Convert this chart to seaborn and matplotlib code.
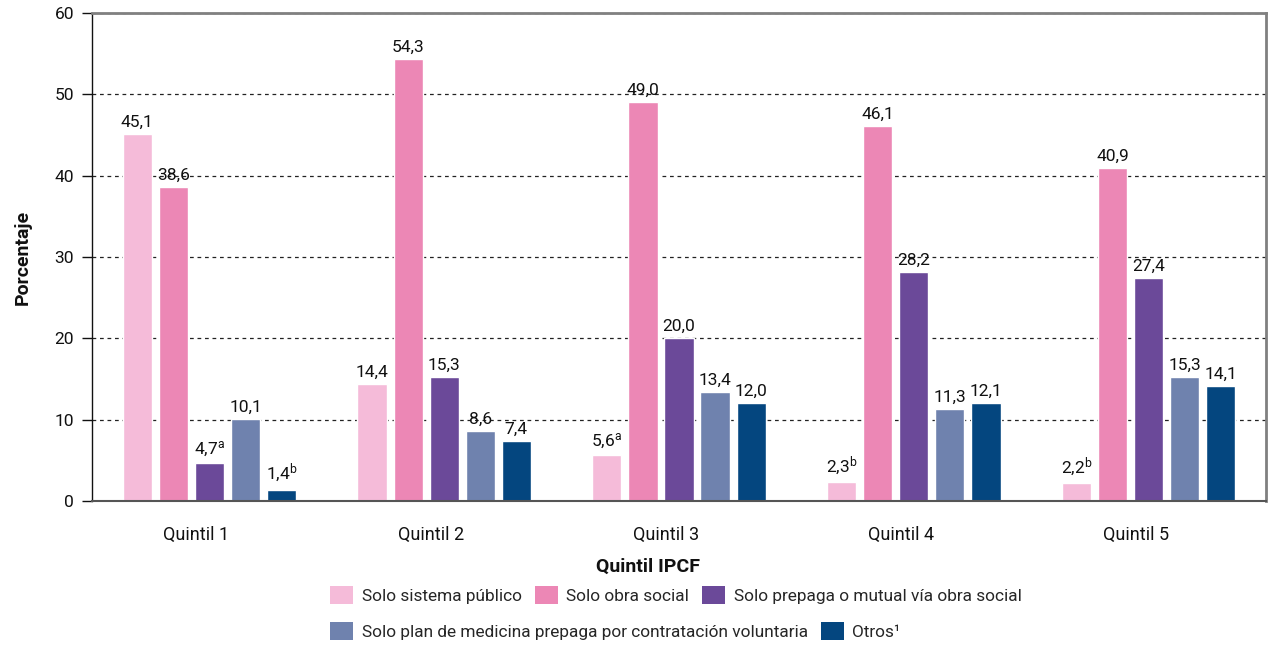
import matplotlib
matplotlib.use("Agg")
import matplotlib.pyplot as plt
import matplotlib.transforms as mtransforms
from matplotlib.patches import Patch
import seaborn as sns
import pandas as pd

# Data
quintiles = ["Quintil 1", "Quintil 2", "Quintil 3", "Quintil 4", "Quintil 5"]
categories = [
    "Solo sistema público",
    "Solo obra social",
    "Solo prepaga o mutual vía obra social",
    "Solo plan de medicina prepaga por contratación voluntaria",
    "Otros¹",
]
publico = [45.1, 14.4, 5.6, 2.3, 2.2]
obra_social = [38.6, 54.3, 49.0, 46.1, 40.9]
prepaga_mutual = [4.7, 15.3, 20.0, 28.2, 27.4]
prepaga_voluntaria = [10.1, 8.6, 13.4, 11.3, 15.3]
otros = [1.4, 7.4, 12.0, 12.1, 14.1]

# Footnote marks attached to some values
notas_publico = ["", "", "a", "b", "b"]
notas_obra_social = ["", "", "", "", ""]
notas_prepaga_mutual = ["a", "", "", "", ""]
notas_prepaga_voluntaria = ["", "", "", "", ""]
notas_otros = ["b", "", "", "", ""]

colors = ["#F5BBD9", "#EC87B5", "#6B4999", "#6F82AE", "#04467F"]

series = [publico, obra_social, prepaga_mutual, prepaga_voluntaria, otros]
notes = [notas_publico, notas_obra_social, notas_prepaga_mutual,
         notas_prepaga_voluntaria, notas_otros]

rows = []
for cat, vals in zip(categories, series):
    for q, v in zip(quintiles, vals):
        rows.append({"quintil": q, "categoria": cat, "valor": v})
df = pd.DataFrame(rows)

sns.set_theme(style="white")
plt.rcParams["font.family"] = ["Roboto", "DejaVu Sans"]
plt.rcParams["mathtext.fontset"] = "custom"
plt.rcParams["mathtext.rm"] = "Roboto"
plt.rcParams["mathtext.it"] = "Roboto:italic"
plt.rcParams["mathtext.bf"] = "Roboto:bold"

fig = plt.figure(figsize=(12.68, 6.46), dpi=100)
ax = fig.add_axes([92 / 1268, 1 - 501 / 646, (1266 - 92) / 1268, (501 - 13) / 646])

sns.barplot(data=df, x="quintil", y="valor", hue="categoria",
            order=quintiles, hue_order=categories, palette=colors,
            width=0.768, gap=0.19, legend=False, ax=ax, saturation=1)

def fmt(v, note):
    s = f"{v:.1f}".replace(".", ",")
    if note:
        s += r"$^{\mathrm{" + note + "}}$"
    return s

for cont, vals, nts in zip(ax.containers, series, notes):
    ax.bar_label(cont, labels=[fmt(v, n) for v, n in zip(vals, nts)],
                 padding=3, fontsize=12.5, color="#111111")

ax.set_xlim(-0.5, 4.5)
ax.set_ylim(0, 60)
ax.set_yticks(range(0, 61, 10))
ax.yaxis.grid(True, linestyle=(0, (3, 3)), color="#222222", linewidth=0.9)
ax.set_axisbelow(True)

for s in ["top", "right"]:
    ax.spines[s].set_color("#808080")
    ax.spines[s].set_linewidth(2)
ax.spines["left"].set_color("#111111")
ax.spines["left"].set_linewidth(1)
ax.spines["bottom"].set_color("#555555")
ax.spines["bottom"].set_linewidth(1.5)

ax.tick_params(axis="y", left=True, length=7, width=1, color="#111111",
               labelsize=12.5, pad=6, labelcolor="#111111")
ax.tick_params(axis="x", bottom=False, labelsize=13, pad=12, labelcolor="#111111")

shift = mtransforms.ScaledTranslation(-13 / 100, 0, fig.dpi_scale_trans)
for lbl in ax.get_xticklabels():
    lbl.set_transform(lbl.get_transform() + shift)

ax.set_ylabel("Porcentaje", fontsize=14, fontweight="bold", labelpad=16, color="#111111")
ax.set_xlabel("Quintil IPCF", fontsize=14, fontweight="bold", color="#111111")
ax.xaxis.set_label_coords((648 - 92) / 1174, (501 - 558) / 488)

handles = [Patch(facecolor=c, edgecolor="none") for c in colors]

legend_kw = dict(loc="center left", frameon=False, fontsize=12.4,
                 handlelength=1.34, handleheight=1.28, handletextpad=0.5,
                 columnspacing=0.75, borderaxespad=0, borderpad=0)
fig.legend(handles[:3], categories[:3], ncol=3,
           bbox_to_anchor=(330 / 1268, 1 - 595 / 646), **legend_kw)
fig.legend(handles[3:], categories[3:], ncol=2,
           bbox_to_anchor=(330 / 1268, 1 - 631 / 646), **legend_kw)

fig.savefig("out.png", dpi=100)
